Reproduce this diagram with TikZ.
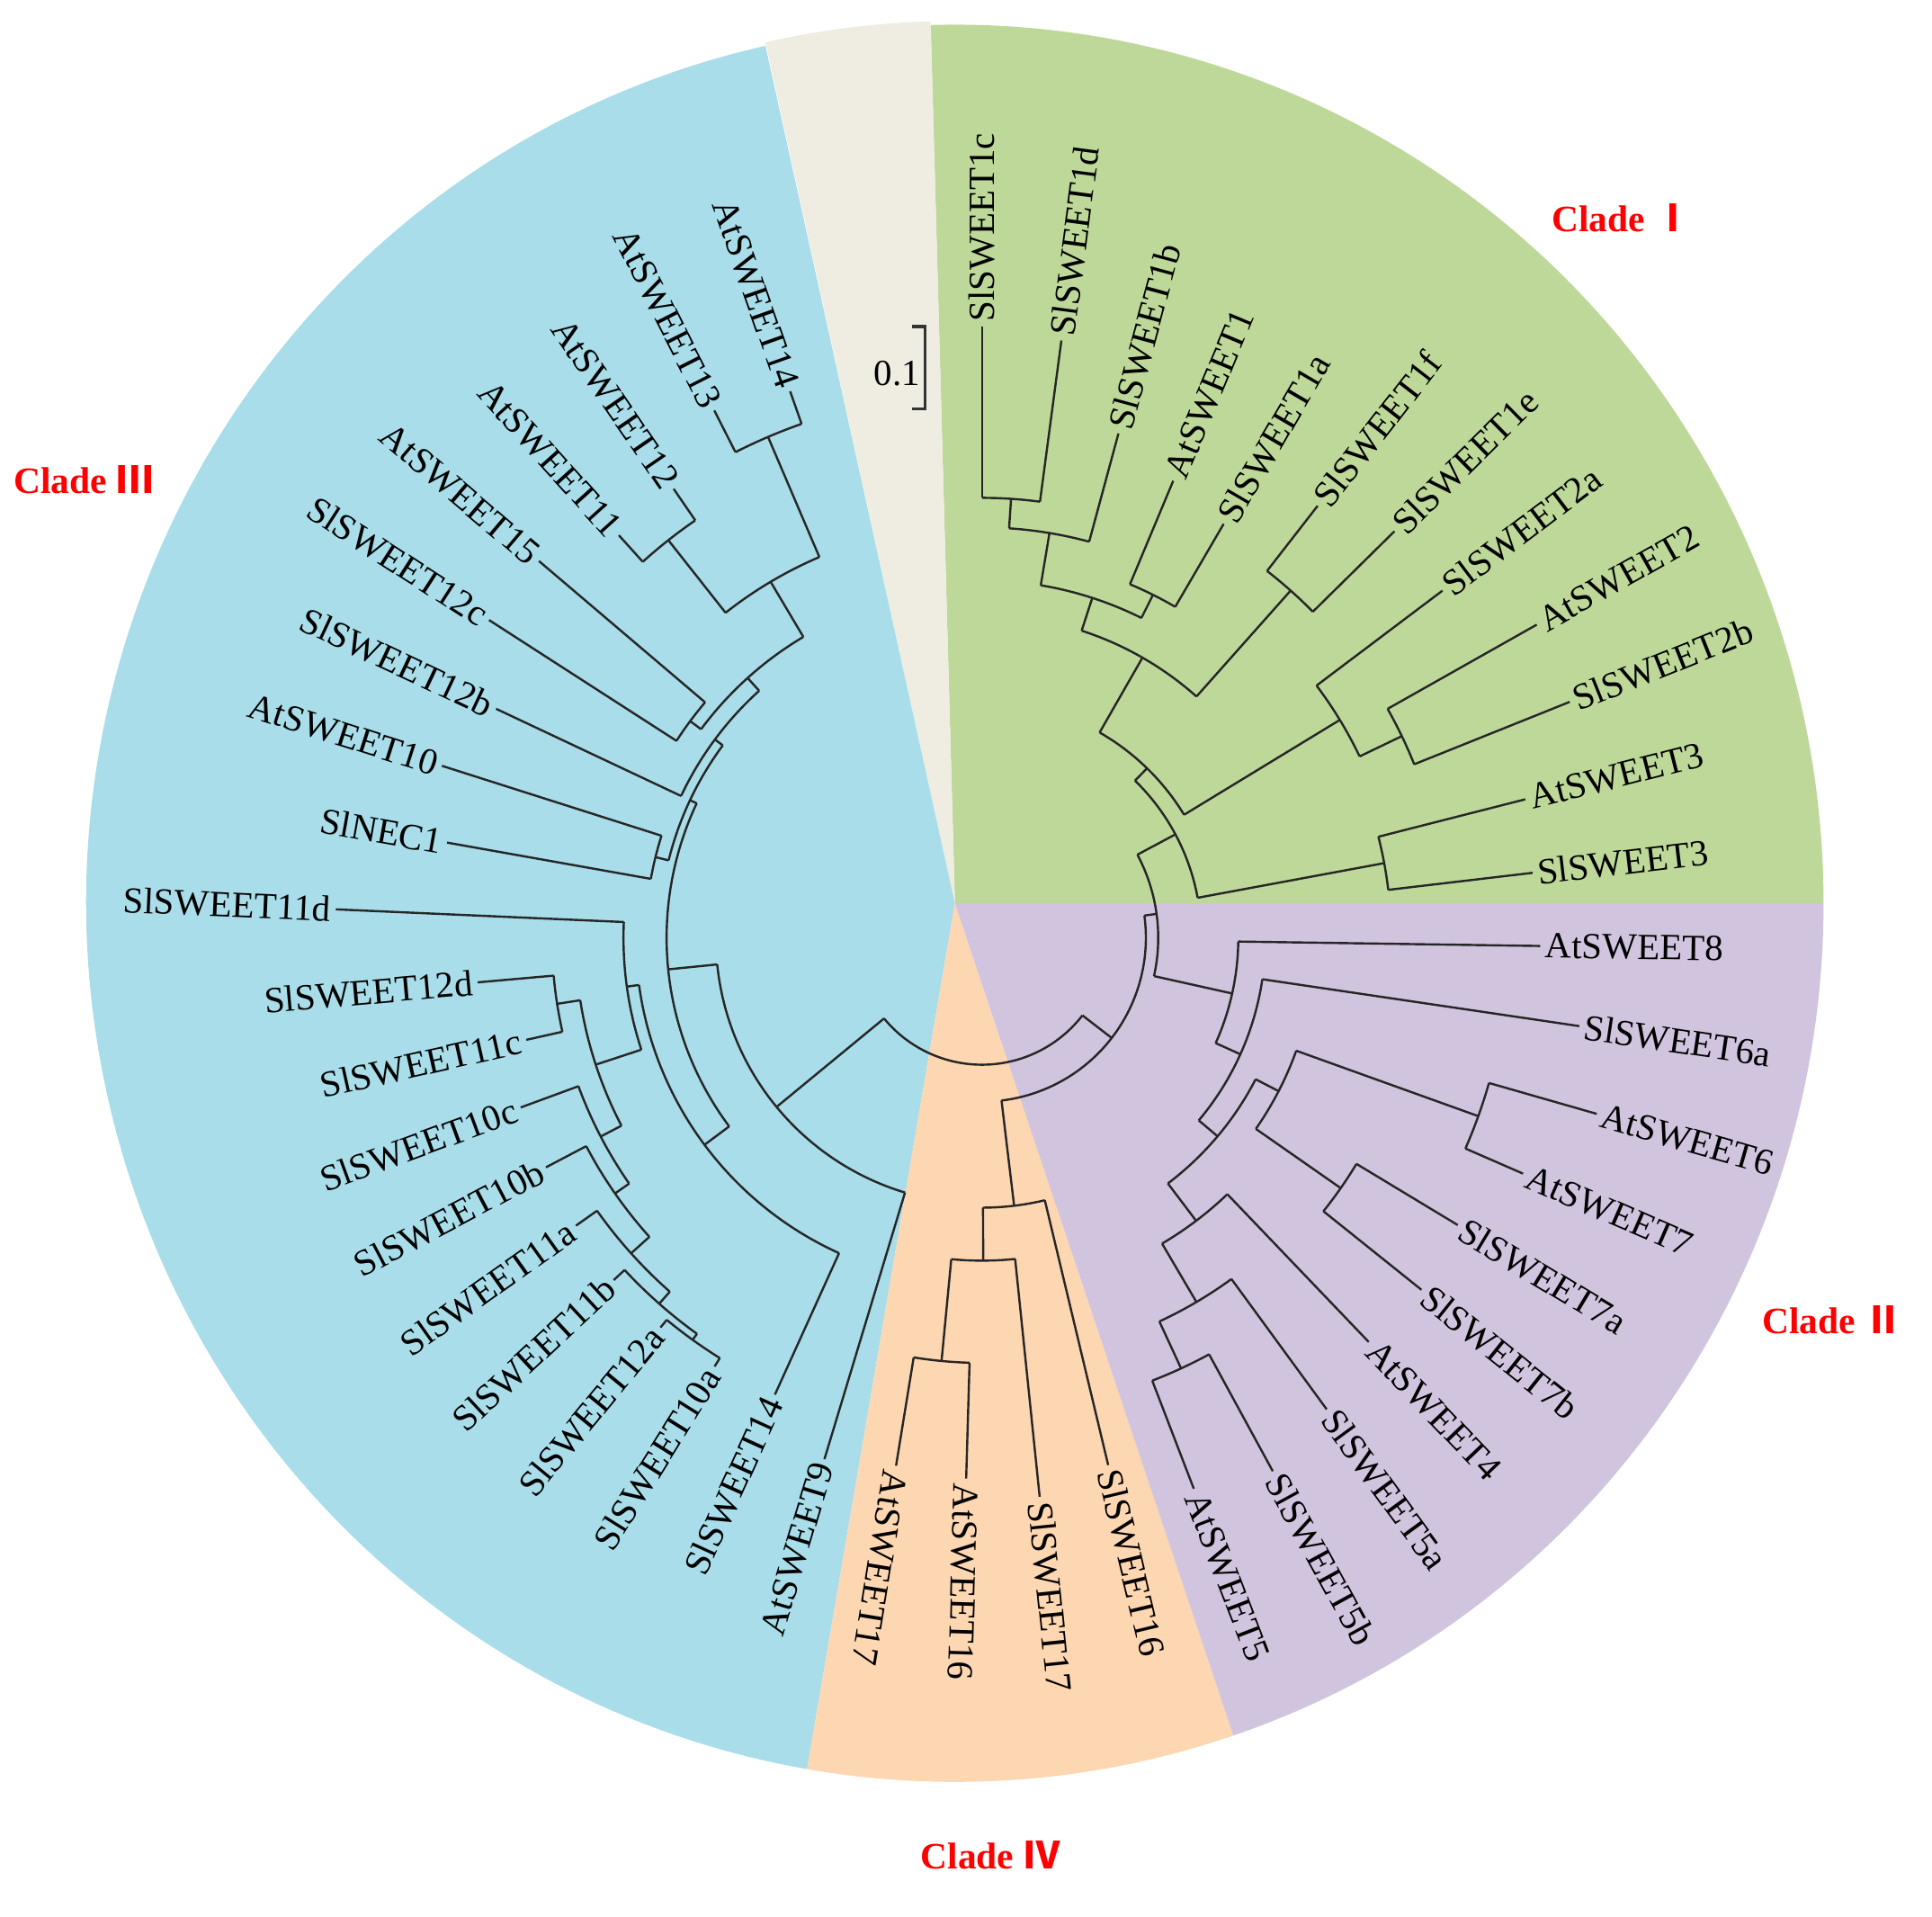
\documentclass[tikz,border=0pt]{standalone}
\usepackage{fontspec}
\setmainfont{Liberation Serif}
\newfontfamily\cjkfont{Noto Sans CJK SC}

\definecolor{cladeI}{RGB}{190,216,154}
\definecolor{cladeII}{RGB}{209,196,222}
\definecolor{cladeIII}{RGB}{168,221,233}
\definecolor{cladeIV}{RGB}{253,214,178}
\definecolor{outgroup}{RGB}{239,237,226}

\tikzset{
  branch/.style={line width=0.5pt, black!85},
  leaflabel/.style={font=\fontsize{8.5}{10}\selectfont, inner sep=1pt},
  cladelabel/.style={text=red, font=\fontsize{8.6}{10}\selectfont\bfseries, inner sep=0pt},
  scalebar/.style={line width=0.7pt, black!80}
}

\begin{document}
\begin{tikzpicture}[x=0.01cm, y=0.01cm]
  \useasboundingbox (0,0) rectangle (1568,-1555);

  % coloured sectors
  \begin{scope}[shift={(775,-733)}]
    \fill[cladeI] (0,0) -- (0:705 and 713) arc[start angle=0, end angle=91.6, x radius=705, y radius=713] -- cycle;
    \fill[outgroup] (0,0) -- (91.6:705 and 716) arc[start angle=91.6, end angle=102.6, x radius=705, y radius=716] -- cycle;
    \fill[cladeIII] (0,0) -- (102.6:705 and 713) arc[start angle=102.6, end angle=260.2, x radius=705, y radius=713] -- cycle;
    \fill[cladeIV] (0,0) -- (260.2:705 and 713) arc[start angle=260.2, end angle=288.7, x radius=705, y radius=713] -- cycle;
    \fill[cladeII] (0,0) -- (288.7:705 and 713) arc[start angle=288.7, end angle=360, x radius=705, y radius=713] -- cycle;
  \end{scope}

  % tree, leaves every 7.57 degrees
  \begin{scope}[shift={(797,-761)}]
    % internal nodes: name/position/radius/parent radius/child a/child b
    \foreach \nm/\pos/\rad/\prad/\pa/\pb in {
      n1/0.5/357/333/0/1, n2/1.25/333/290/0.5/2, n3/3.5/311/290/3/4,
      n4/2.375/290/262/1.25/3.5, n5/5.5/377/262/5/6, n6/3.9375/262/192/2.375/5.5,
      n7/8.5/378/340/8/9, n8/7.75/340/192/7/8.5, n9/5.84375/192/178/3.9375/7.75,
      n10/10.5/332/178/10/11, n11/8.171875/178/143/5.84375/10.5,
      h2/20.5/385/343/20/21, h1/19.75/343/288/19/20.5, g2/18.875/288/250/18/19.75,
      ga/14.5/428/271/14/15, gb/16.5/355/271/16/17, g1/15.5/271/250/14.5/16.5,
      nQ/17.1875/250/230/15.5/18.875, nP/15.09375/230/208/13/17.1875,
      nZ/13.546875/208/143/12/15.09375, nW/10.859375/143/133/8.171875/13.546875,
      i2/24.5/345/262/24/25, i1/23.75/262/219/23/24.5, nIV/22.875/219/133/22/23.75,
      nV/16.8671875/133/103/10.859375/22.875,
      l1/28.5/402/396/28/29, l2/29.25/396/383/28.5/30, l3/30.125/383/363/29.25/31,
      l4/31.0625/363/349/30.125/32, l5/32.03125/349/330/31.0625/33,
      l6/34.5/349/330/34/35, l7/33.265625/330/291/32.03125/34.5,
      l8/34.6328125/291/281/33.265625/36, nX/30.81640625/281/256/27/34.6328125,
      u1/44.5/442/336/44/45, u2/42.5/411/336/42/43, u3/43.5/336/284/42.5/44.5,
      u4/40.5/295/284/40/41, u5/42/284/270/40.5/43.5, u6/40.5/270/262/39/42,
      u7/37.5/273/262/37/38, u8/39/262/256/37.5/40.5,
      nR/34.908203125/256/216/30.81640625/39, nIII/30.4541015625/216/103/26/34.908203125}
    {
      \coordinate (\nm) at ({90-7.57*\pos}:\rad);
      \draw[branch] ({90-7.57*\pos}:\prad) -- (\nm);
      \draw[branch] ({90-7.57*\pa}:\rad) arc[start angle={90-7.57*\pa}, end angle={90-7.57*\pb}, radius=\rad];
    }
    % root
    \coordinate (root) at ({90-7.57*23.66}:103);
    \draw[branch] ({90-7.57*16.8671875}:103) arc[start angle={90-7.57*16.8671875}, end angle={90-7.57*30.4541015625}, radius=103];

    % leaves: index/name/tip radius/parent radius
    \foreach \k/\nm/\rad/\prad in {
      0/SlSWEET1c/496/357, 1/SlSWEET1d/489/357, 2/SlSWEET1b/424/333,
      3/AtSWEET1/402/311, 4/SlSWEET1a/389/311, 5/SlSWEET1f/444/377,
      6/SlSWEET1e/470/377, 7/SlSWEET2a/468/340, 8/AtSWEET2/517/378,
      9/SlSWEET2b/514/378, 10/AtSWEET3/455/332, 11/SlSWEET3/450/332,
      12/AtSWEET8/453/208, 13/SlSWEET6a/490/230, 14/AtSWEET6/519/428,
      15/AtSWEET7/479/428, 16/SlSWEET7a/451/355, 17/SlSWEET7b/457/355,
      18/AtSWEET4/454/288, 19/SlSWEET5a/474/343, 20/SlSWEET5b/493/385,
      21/AtSWEET5/479/385, 22/SlSWEET16/440/219, 23/SlSWEET17/456/262,
      24/AtSWEET16/439/345, 25/AtSWEET17/434/345, 26/AtSWEET9/442/216,
      27/SlSWEET14/407/281, 28/SlSWEET10a/410/402, 29/SlSWEET12a/410/402,
      30/SlSWEET11b/408/396, 31/SlSWEET11a/404/383, 32/SlSWEET10b/400/363,
      33/SlSWEET10c/399/349, 34/SlSWEET11c/379/349, 35/SlSWEET12d/411/349,
      36/SlSWEET11d/525/291, 37/SlNEC1/441/273, 38/AtSWEET10/460/273,
      39/SlSWEET12b/436/270, 40/SlSWEET12c/476/295, 41/AtSWEET15/472/295,
      42/AtSWEET11/440/411, 43/AtSWEET12/442/411, 44/AtSWEET13/480/442,
      45/AtSWEET14/470/442}
    {
      \pgfmathsetmacro{\ang}{90-7.57*\k}
      \pgfmathsetmacro{\flip}{\ang+180}
      \coordinate (t\k) at (\ang:\rad);
      \draw[branch] (\ang:\prad) -- (t\k);
      \ifnum\k<26
        \node[leaflabel, anchor=west, rotate=\ang] (lab\k) at (t\k) {\nm};
      \else
        \node[leaflabel, anchor=east, rotate=\flip] (lab\k) at (t\k) {\nm};
      \fi
    }
  \end{scope}

  % scale bar
  \coordinate (sbtop) at (751,-265);
  \coordinate (sbbot) at (751,-332);
  \draw[scalebar] (740,-265) -- (sbtop) -- (sbbot) -- (740,-332);
  \node[leaflabel] (sblab) at (728,-303) {0.1};

  % clade names
  \node[cladelabel] (cladeone) at (1316,-177) {Clade {\cjkfont Ⅰ}};
  \node[cladelabel] (cladetwo) at (1487,-1071) {Clade {\cjkfont Ⅱ}};
  \node[cladelabel] (cladethree) at (68,-389) {Clade {\cjkfont Ⅲ}};
  \node[cladelabel] (cladefour) at (804,-1505) {Clade {\cjkfont Ⅳ}};
\end{tikzpicture}
\end{document}
